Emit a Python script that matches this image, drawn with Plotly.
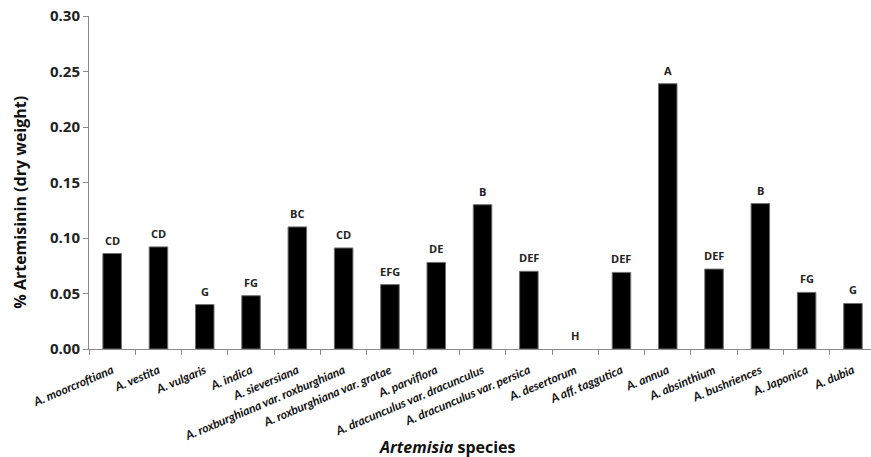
import plotly.graph_objects as go

species = ["A. moorcroftiana", "A. vestita", "A. vulgaris", "A. indica", "A. sieversiana",
           "A. roxburghiana var. roxburghiana", "A. roxburghiana var. gratae", "A. parviflora",
           "A. dracunculus var. dracunculus", "A. dracunculus var. persica", "A. desertorum",
           "A aff. taggutica", "A. annua", "A. absinthium", "A. bushriences", "A. Japonica", "A. dubia"]
artemisinin = [0.086, 0.092, 0.040, 0.048, 0.110, 0.091, 0.058, 0.078, 0.130, 0.070, 0.0,
               0.069, 0.239, 0.072, 0.131, 0.051, 0.041]
groups = ["CD", "CD", "G", "FG", "BC", "CD", "EFG", "DE", "B", "DEF", "H",
          "DEF", "A", "DEF", "B", "FG", "G"]
y_ticks = [0.00, 0.05, 0.10, 0.15, 0.20, 0.25, 0.30]

axis_grey = "#8a8a8a"

fig = go.Figure()
fig.add_trace(go.Bar(
    x=species, y=artemisinin, width=0.4,
    marker=dict(color="black",
                line=dict(color="#6e6e6e", width=[1 if v > 0 else 0 for v in artemisinin])),
))

for s, v, g in zip(species, artemisinin, groups):
    fig.add_annotation(x=s, y=v, text=g, showarrow=False, yanchor="bottom", yshift=4,
                       font=dict(family="Open Sans", size=11, color="#222222", weight="bold"))

fig.add_annotation(xref="paper", yref="paper", x=-0.088, y=0.44, xanchor="center", yanchor="middle",
                   text="% Artemisinin (dry weight)",
                   textangle=-90, showarrow=False,
                   font=dict(family="Open Sans", size=16, color="#111111", weight="bold"))
fig.add_annotation(xref="paper", yref="paper", x=0.459, y=-0.295, xanchor="center", yanchor="middle",
                   text="<i>Artemisia</i> species", showarrow=False,
                   font=dict(family="Open Sans", size=16, color="#111111", weight="bold"))

fig.update_layout(
    width=871, height=457,
    margin=dict(l=89, r=0, t=16, b=108),
    plot_bgcolor="white", paper_bgcolor="white",
    showlegend=False,
    bargap=0.6,
)
fig.update_xaxes(
    type="category", range=[-0.5, 16.39],
    showline=True, linecolor=axis_grey, linewidth=1,
    ticks="outside", tickson="boundaries", ticklen=5, tickcolor=axis_grey,
    tickangle=-23, automargin=False, ticklabelstandoff=9,
    tickfont=dict(family="Lato", size=12, color="#111111", weight="bold", style="italic"),
    showgrid=False,
)
fig.update_yaxes(
    range=[0, 0.30], tickvals=y_ticks, tickformat=".2f",
    showline=True, linecolor=axis_grey, linewidth=1,
    ticks="outside", ticklen=5, tickcolor=axis_grey, automargin=False,
    tickfont=dict(family="Open Sans", size=15, color="#222222", weight="bold"),
    showgrid=False, zeroline=False,
)

fig.write_html("out.html", config={"displayModeBar": False},
               post_script="document.body.style.margin='0';")
